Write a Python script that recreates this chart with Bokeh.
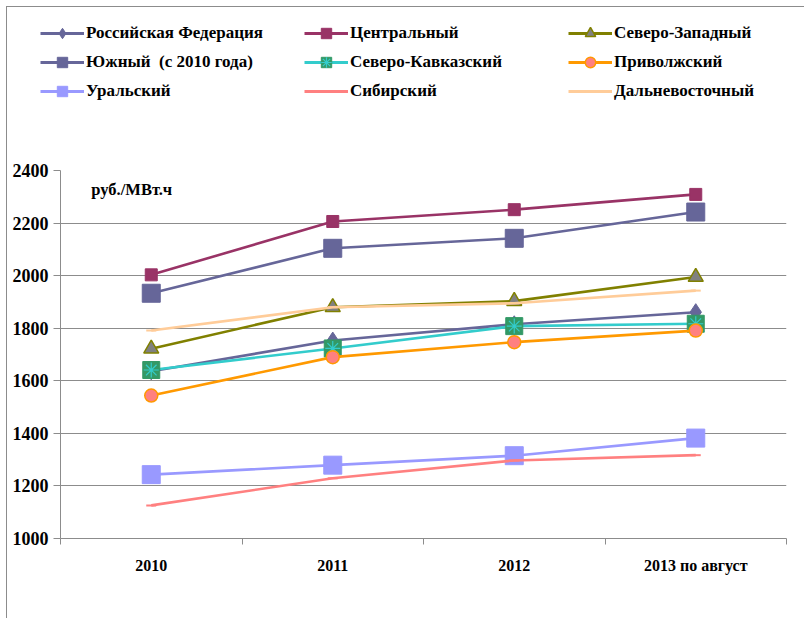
from bokeh.plotting import figure
from bokeh.layouts import column
from bokeh.models import (Legend, LegendItem, FixedTicker, Label, Range1d)
from bokeh.embed import file_html
from bokeh.resources import INLINE

categories = ["2010", "2011", "2012", "2013 по август"]

rf = [1636, 1753, 1815, 1861]
central = [2003, 2206, 2251, 2309]
nw = [1722, 1880, 1903, 1995]
south = [1933, 2104, 2142, 2242]
nc = [1641, 1723, 1808, 1817]
volga = [1544, 1690, 1747, 1791]
ural = [1243, 1279, 1315, 1382]
siberia = [1126, 1229, 1297, 1317]
fareast = [1791, 1880, 1895, 1943]

y_ticks = [1000, 1200, 1400, 1600, 1800, 2000, 2200, 2400]
unit_label = "руб./МВт.ч"

FONT = "Liberation Serif"
W = 797

xs = [i + 0.5 for i in range(len(categories))]

# legend strip on top (its own ranges keep the proxy glyphs out of view)
lg = figure(width=W, height=113, output_backend="svg", toolbar_location=None,
            x_range=Range1d(0, 1), y_range=Range1d(0, 1), min_border=0,
            frame_align=False)
lg.axis.visible = False
lg.grid.grid_line_color = None
lg.outline_line_color = None

p = figure(width=W, height=498, output_backend="svg", toolbar_location=None,
           x_range=Range1d(0, len(categories)), y_range=Range1d(1000, 2400),
           min_border_left=53, min_border_right=18, min_border_top=50,
           min_border_bottom=80, frame_align=False)
p.outline_line_color = None
p.background_fill_color = "white"

# axes
p.xaxis.ticker = FixedTicker(ticks=xs, minor_ticks=list(range(len(categories) + 1)))
p.xaxis.major_label_overrides = {x: c for x, c in zip(xs, categories)}
p.xaxis.major_tick_line_color = None
p.xaxis.minor_tick_line_color = "#8c8c8c"
p.xaxis.minor_tick_in = 0
p.xaxis.minor_tick_out = 6
p.xaxis.axis_line_color = "#8c8c8c"
p.xaxis.major_label_standoff = 12
p.xaxis.major_label_text_font = FONT
p.xaxis.major_label_text_font_style = "bold"
p.xaxis.major_label_text_font_size = "16px"
p.xaxis.major_label_text_color = "black"

p.yaxis.ticker = FixedTicker(ticks=y_ticks)
p.yaxis.minor_tick_line_color = None
p.yaxis.major_tick_in = 0
p.yaxis.major_tick_out = 7
p.yaxis.major_tick_line_color = "#8c8c8c"
p.yaxis.axis_line_color = "#8c8c8c"
p.yaxis.major_label_standoff = 5
p.yaxis.major_label_text_font = FONT
p.yaxis.major_label_text_font_style = "bold"
p.yaxis.major_label_text_font_size = "18px"
p.yaxis.major_label_text_color = "black"

p.xgrid.grid_line_color = None
p.ygrid.grid_line_color = "#8c8c8c"
p.ygrid.grid_line_width = 1

LW = 2.6
items = []

def series(name, ys, color, markers):
    p.line(xs, ys, line_color=color, line_width=LW)
    rs = [lg.line(xs, ys, line_color=color, line_width=3)]
    for m in markers:
        p.scatter(xs, ys, **m)
        rs.append(lg.scatter(xs, ys, **m))
    items.append(LegendItem(label=name, renderers=rs))

series("Российская Федерация", rf, "#666699",
       [dict(marker="diamond", size=17, fill_color="#666699", line_color="#666699")])
series("Центральный", central, "#993366",
       [dict(marker="square", size=12, fill_color="#993366", line_color="#993366")])
series("Северо-Западный", nw, "#808000",
       [dict(marker="triangle", size=15, fill_color="#808080", line_color="#808000", line_width=1.5)])
series("Южный  (с 2010 года)", south, "#666699",
       [dict(marker="square", size=18, fill_color="#666699", line_color="#666699")])
series("Северо-Кавказский", nc, "#33CCCC",
       [dict(marker="square", size=17, fill_color="#339966", line_color="#339966"),
        dict(marker="asterisk", size=15, line_color="#33CCCC", line_width=1.2)])
series("Приволжский", volga, "#FF9900",
       [dict(marker="circle", size=13, fill_color="#FF8080", line_color="#FF9900", line_width=1.5)])
series("Уральский", ural, "#9999FF",
       [dict(marker="square", size=18, fill_color="#9999FF", line_color="#9999FF")])
series("Сибирский", siberia, "#FF8080",
       [dict(marker="dash", size=10, line_color="#FF8080", line_width=2)])
series("Дальневосточный", fareast, "#FFCC99",
       [dict(marker="dash", size=10, line_color="#FFCC99", line_width=2)])

legend = Legend(items=items, ncols=3, orientation="horizontal",
                label_text_font=FONT, label_text_font_style="bold",
                label_text_font_size="17px", label_text_color="black",
                glyph_width=44, glyph_height=26, label_standoff=2,
                label_width=215, spacing=3, padding=0, margin=0,
                border_line_color=None, background_fill_alpha=0,
                location=(33, 16), label_height=23)
lg.add_layout(legend, "center")

p.add_layout(Label(x=0.17, y=2326, text=unit_label, text_font=FONT,
                   text_font_style="bold", text_font_size="16.5px",
                   text_baseline="middle", text_color="black"))

layout = column(lg, p, spacing=0,
                styles={"margin-left": "6px", "margin-top": "6px",
                        "border-left": "1px solid #8c8c8c",
                        "border-top": "1px solid #8c8c8c"})

open("out.html", "w").write(file_html(layout, INLINE))
